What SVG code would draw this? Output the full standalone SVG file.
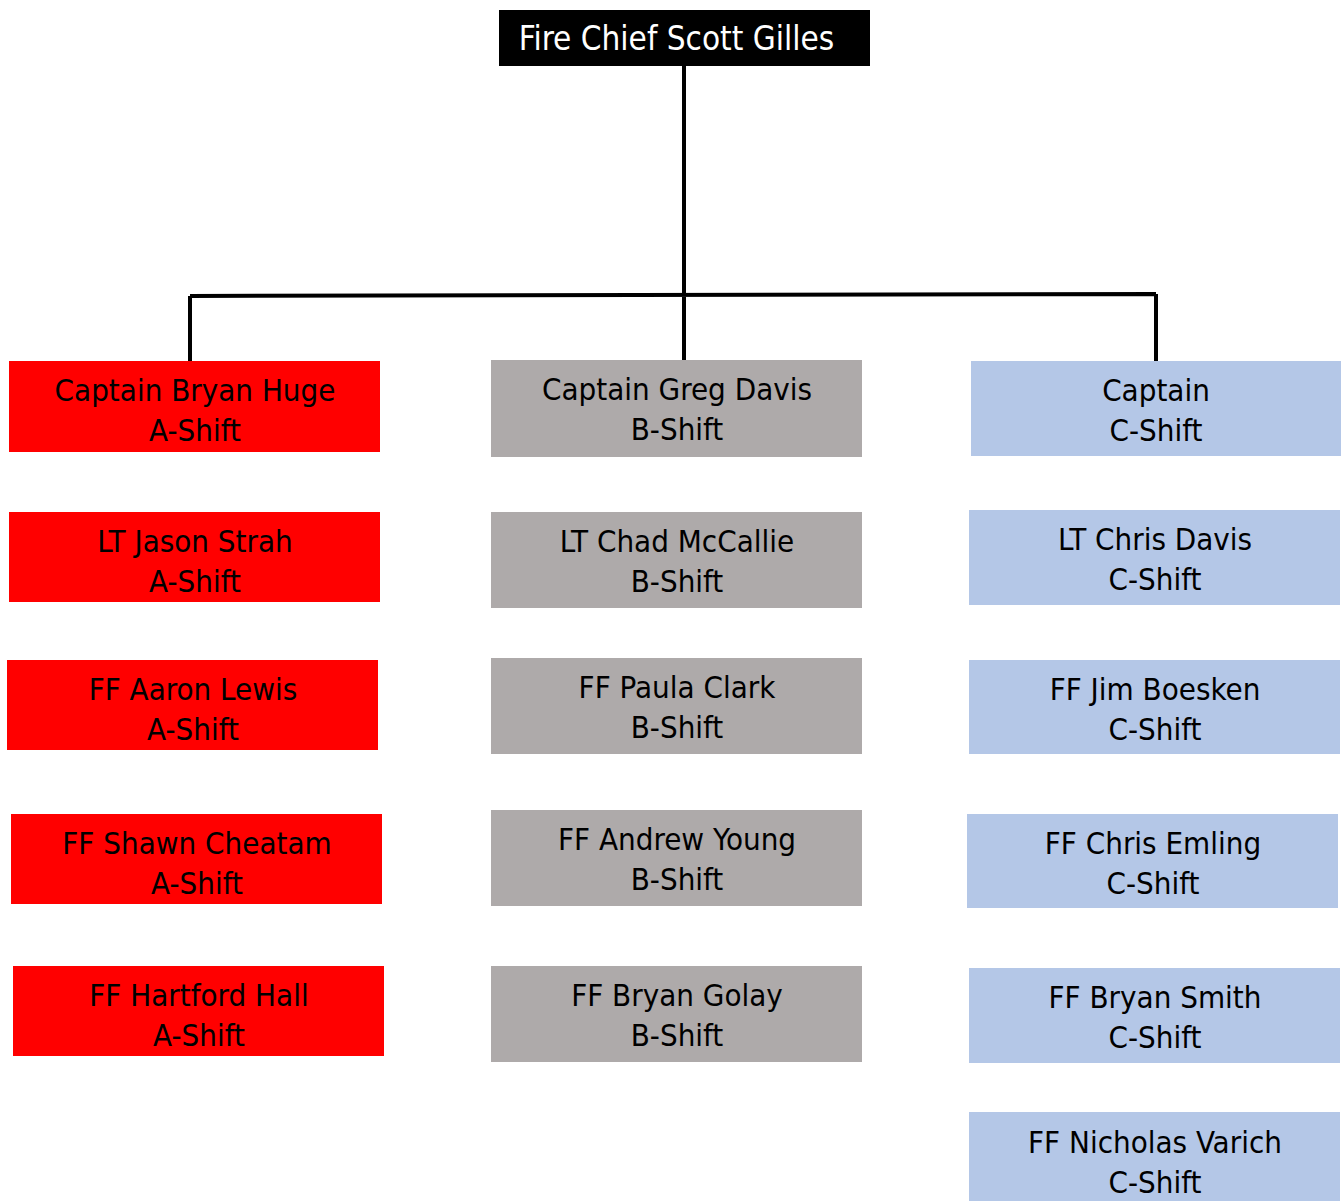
<svg xmlns="http://www.w3.org/2000/svg" width="1341" height="1201" viewBox="0 0 1341 1201">
<style>
text{font-family:"DejaVu Sans Condensed","DejaVu Sans",sans-serif;font-stretch:condensed;font-size:31px;text-anchor:middle;fill:#000}
.a{fill:#ff0000}.b{fill:#aeaaaa}.c{fill:#b4c7e7}
.ln{stroke:#000;stroke-width:4;fill:none}
</style>
<rect width="1341" height="1201" fill="#fff"/>
<g id="chief"><rect x="499" y="10" width="371" height="56" fill="#000"/><text x="676.5" y="50" style="fill:#fff;font-size:33px">Fire Chief Scott Gilles</text></g>
<g id="connectors">
<path class="ln" d="M684 66V360M190 296L1156 294M190 296V362M1156 294V364"/>
</g>
<g id="a1"><rect class="a" x="9" y="361" width="371" height="91"/><text x="195" y="401">Captain Bryan Huge</text><text x="195" y="441">A-Shift</text></g>
<g id="a2"><rect class="a" x="9" y="512" width="371" height="90"/><text x="195" y="552">LT Jason Strah</text><text x="195" y="592">A-Shift</text></g>
<g id="a3"><rect class="a" x="7" y="660" width="371" height="90"/><text x="193" y="700">FF Aaron Lewis</text><text x="193" y="740">A-Shift</text></g>
<g id="a4"><rect class="a" x="11" y="814" width="371" height="90"/><text x="197" y="854">FF Shawn Cheatam</text><text x="197" y="894">A-Shift</text></g>
<g id="a5"><rect class="a" x="13" y="966" width="371" height="90"/><text x="199" y="1006">FF Hartford Hall</text><text x="199" y="1046">A-Shift</text></g>
<g id="b1"><rect class="b" x="491" y="360" width="371" height="97"/><text x="677" y="400">Captain Greg Davis</text><text x="677" y="440">B-Shift</text></g>
<g id="b2"><rect class="b" x="491" y="512" width="371" height="96"/><text x="677" y="552">LT Chad McCallie</text><text x="677" y="592">B-Shift</text></g>
<g id="b3"><rect class="b" x="491" y="658" width="371" height="96"/><text x="677" y="698">FF Paula Clark</text><text x="677" y="738">B-Shift</text></g>
<g id="b4"><rect class="b" x="491" y="810" width="371" height="96"/><text x="677" y="850">FF Andrew Young</text><text x="677" y="890">B-Shift</text></g>
<g id="b5"><rect class="b" x="491" y="966" width="371" height="96"/><text x="677" y="1006">FF Bryan Golay</text><text x="677" y="1046">B-Shift</text></g>
<g id="c1"><rect class="c" x="971" y="361" width="370" height="95"/><text x="1156" y="401">Captain</text><text x="1156" y="441">C-Shift</text></g>
<g id="c2"><rect class="c" x="969" y="510" width="371" height="95"/><text x="1155" y="550">LT Chris Davis</text><text x="1155" y="590">C-Shift</text></g>
<g id="c3"><rect class="c" x="969" y="660" width="371" height="94"/><text x="1155" y="700">FF Jim Boesken</text><text x="1155" y="740">C-Shift</text></g>
<g id="c4"><rect class="c" x="967" y="814" width="371" height="94"/><text x="1153" y="854">FF Chris Emling</text><text x="1153" y="894">C-Shift</text></g>
<g id="c5"><rect class="c" x="969" y="968" width="371" height="95"/><text x="1155" y="1008">FF Bryan Smith</text><text x="1155" y="1048">C-Shift</text></g>
<g id="c6"><rect class="c" x="969" y="1112" width="371" height="89"/><text x="1155" y="1153">FF Nicholas Varich</text><text x="1155" y="1193">C-Shift</text></g>
</svg>
